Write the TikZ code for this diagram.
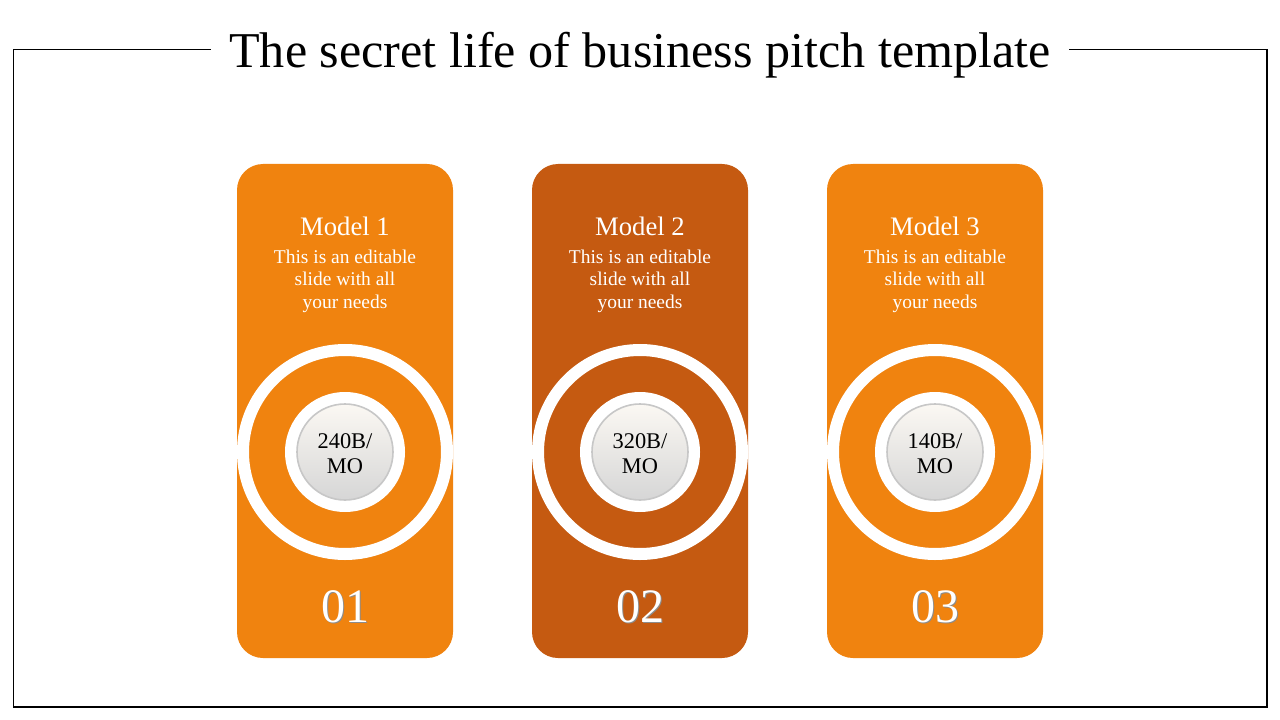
\documentclass[tikz,border=0pt]{standalone}
\usepackage{fontspec}
\setmainfont{Liberation Serif}
\definecolor{modelorange}{HTML}{F0830F}
\definecolor{modelrust}{HTML}{C55A11}
\definecolor{ballTop}{HTML}{FBF8F3}
\definecolor{ballBottom}{HTML}{D6D6D6}
\tikzset{
	card/.style={rounded corners=19.5pt},
	ring/.style={draw=white, line width=9pt},
	ball/.style={draw=black!22, line width=1.2pt, top color=ballTop, bottom color=ballBottom},
	modeltitle/.style={text=white, font=\fontsize{20}{24}\selectfont},
	modeltext/.style={text=white, align=center, font=\fontsize{14.6}{16.9}\selectfont},
	modelnum/.style={text=white, font=\fontsize{36}{40}\selectfont},
	numshadow/.style={text=black!45, font=\fontsize{36}{40}\selectfont},
	ballvalue/.style={text=black, align=center, font=\fontsize{16.8}{18.8}\selectfont}
}

\begin{document}
\begin{tikzpicture}[x=0.75pt, y=-0.75pt]
			%%%%% START %%%%%
			\useasboundingbox (0, 0) rectangle (1280, 720);
			
			\draw[line width=0.8pt] (13.5, 49.5) rectangle (1267, 707);
			\node[fill=white, inner xsep=14pt, inner ysep=2pt, anchor=base, font=\fontsize{37.6}{42}\selectfont] (title) at (640, 68) {The secret life of business pitch template};
			
			% card 1
			\fill[card, modelorange] (237, 164) rectangle (453, 658);
			\draw[ring] (345, 452) circle (102);
			\fill[white] (345, 452) circle (60);
			\shade[ball] (345, 452) circle (48);
			\node[modeltitle, anchor=base] (model1) at (345, 235) {Model 1};
			\node[modeltext, anchor=base] (desc1) at (345, 308.5) {This is an editable\\slide with all\\your needs};
			\node[ballvalue] (value1) at (345, 454) {240B/\\MO};
			\node[numshadow, anchor=base] at (346.5, 623.5) {01};
			\node[modelnum, anchor=base] (num1) at (345, 622) {01};
			
			% card 2
			\fill[card, modelrust] (532, 164) rectangle (748, 658);
			\draw[ring] (640, 452) circle (102);
			\fill[white] (640, 452) circle (60);
			\shade[ball] (640, 452) circle (48);
			\node[modeltitle, anchor=base] (model2) at (640, 235) {Model 2};
			\node[modeltext, anchor=base] (desc2) at (640, 308.5) {This is an editable\\slide with all\\your needs};
			\node[ballvalue] (value2) at (640, 454) {320B/\\MO};
			\node[numshadow, anchor=base] at (641.5, 623.5) {02};
			\node[modelnum, anchor=base] (num2) at (640, 622) {02};
			
			% card 3
			\fill[card, modelorange] (827, 164) rectangle (1043, 658);
			\draw[ring] (935, 452) circle (102);
			\fill[white] (935, 452) circle (60);
			\shade[ball] (935, 452) circle (48);
			\node[modeltitle, anchor=base] (model3) at (935, 235) {Model 3};
			\node[modeltext, anchor=base] (desc3) at (935, 308.5) {This is an editable\\slide with all\\your needs};
			\node[ballvalue] (value3) at (935, 454) {140B/\\MO};
			\node[numshadow, anchor=base] at (936.5, 623.5) {03};
			\node[modelnum, anchor=base] (num3) at (935, 622) {03};
			
			%%%%% END %%%%%
\end{tikzpicture}
\end{document}
